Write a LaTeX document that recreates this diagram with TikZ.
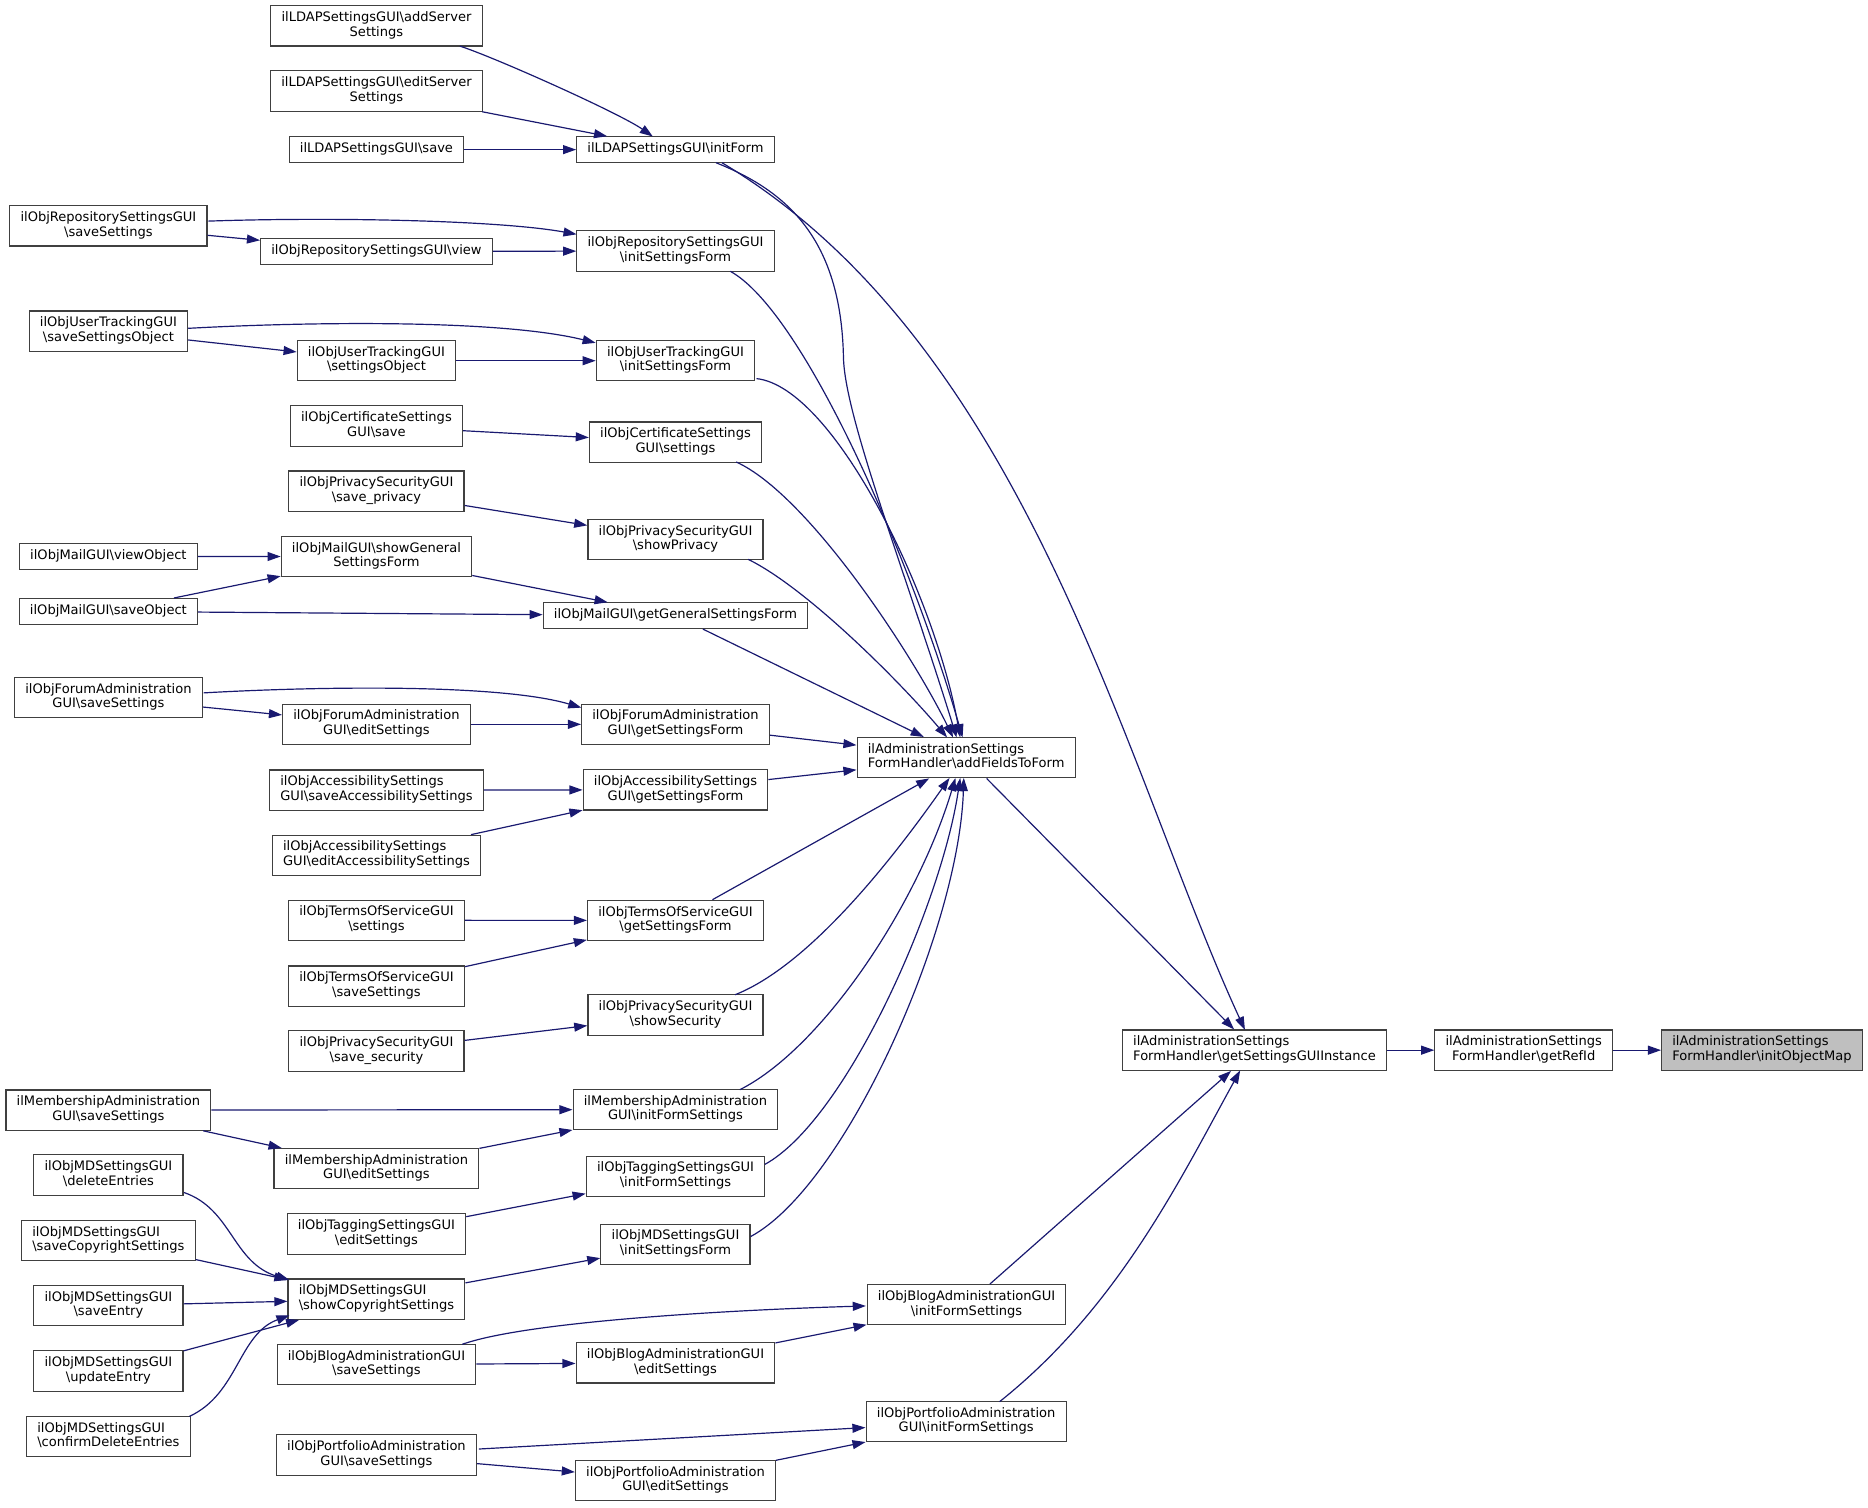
\documentclass[tikz,border=0pt]{standalone}
\usepackage{fontspec}
\setmainfont{DejaVu Sans}
\usetikzlibrary{arrows.meta}
\definecolor{edgec}{HTML}{191970}
\definecolor{boxc}{HTML}{404040}
\definecolor{rootc}{HTML}{BFBFBF}
\newcommand\bs{\textbackslash}
\newcommand\lab[2]{%
  \setbox0=\hbox{#1}\setbox2=\hbox{#2}%
  \ifdim\wd0<\wd2\relax
    \begin{tabular}{@{}l@{}}#1\\#2\end{tabular}%
  \else
    \begin{tabular}{@{}c@{}}#1\\#2\end{tabular}%
  \fi}
\newcommand\one[1]{\begin{tabular}{@{}c@{}}#1\end{tabular}}
\begin{document}
\begin{tikzpicture}[x=1pt,y=-1pt,
  box/.style={draw=boxc, line width=1pt, fill=white, inner xsep=9pt, inner ysep=4.6pt,
    font=\fontsize{10.95}{12.3}\selectfont},
  root/.style={box, fill=rootc},
  edge/.style={draw=edgec, line width=1pt, -{Triangle[length=11pt,width=7.5pt]}}]
\fill[white] (0,0) rectangle (1568,1265);
\useasboundingbox (0,0) rectangle (1568,1265);

% column 2/3 top
\node[box] (addServer) at (316,21.7) {\lab{ilLDAPSettingsGUI\bs{}addServer}{Settings}};
\node[box] (editServer) at (316,76.4) {\lab{ilLDAPSettingsGUI\bs{}editServer}{Settings}};
\node[box] (ldapSave) at (316,125.6) {\one{ilLDAPSettingsGUI\bs{}save}};
\node[box] (initForm) at (567,125.6) {\one{ilLDAPSettingsGUI\bs{}initForm}};
\node[box] (repoSave) at (91,189.6) {\lab{ilObjRepositorySettingsGUI}{\bs{}saveSettings}};
\node[box] (repoView) at (316,211) {\one{ilObjRepositorySettingsGUI\bs{}view}};
\node[box] (repoInit) at (567,210.7) {\lab{ilObjRepositorySettingsGUI}{\bs{}initSettingsForm}};
\node[box] (utSave) at (91,278) {\lab{ilObjUserTrackingGUI}{\bs{}saveSettingsObject}};
\node[box] (utSettings) at (316,302.8) {\lab{ilObjUserTrackingGUI}{\bs{}settingsObject}};
\node[box] (utInit) at (567,302.8) {\lab{ilObjUserTrackingGUI}{\bs{}initSettingsForm}};
\node[box] (certSave) at (316,357.6) {\lab{ilObjCertificateSettings}{GUI\bs{}save}};
\node[box] (certSettings) at (567,371.2) {\lab{ilObjCertificateSettings}{GUI\bs{}settings}};
\node[box] (privSave) at (316,412.3) {\lab{ilObjPrivacySecurityGUI}{\bs{}save\_privacy}};
\node[box] (privShow) at (567,453) {\lab{ilObjPrivacySecurityGUI}{\bs{}showPrivacy}};
\node[box] (mailView) at (91,467) {\one{ilObjMailGUI\bs{}viewObject}};
\node[box] (mailShowGen) at (316,467.2) {\lab{ilObjMailGUI\bs{}showGeneral}{SettingsForm}};
\node[box] (mailSave) at (91,513.2) {\one{ilObjMailGUI\bs{}saveObject}};
\node[box] (mailGetGen) at (567,516.8) {\one{ilObjMailGUI\bs{}getGeneralSettingsForm}};
\node[box] (forumSave) at (91,585.6) {\lab{ilObjForumAdministration}{GUI\bs{}saveSettings}};
\node[box] (forumEdit) at (316,608) {\lab{ilObjForumAdministration}{GUI\bs{}editSettings}};
\node[box] (forumGet) at (567,608) {\lab{ilObjForumAdministration}{GUI\bs{}getSettingsForm}};
\node[box] (accSave) at (316,663.2) {\lab{ilObjAccessibilitySettings}{GUI\bs{}saveAccessibilitySettings}};
\node[box] (accGet) at (567,663) {\lab{ilObjAccessibilitySettings}{GUI\bs{}getSettingsForm}};
\node[box] (accEdit) at (316,718) {\lab{ilObjAccessibilitySettings}{GUI\bs{}editAccessibilitySettings}};
\node[box] (tosSettings) at (316,772.5) {\lab{ilObjTermsOfServiceGUI}{\bs{}settings}};
\node[box] (tosGet) at (567,772.6) {\lab{ilObjTermsOfServiceGUI}{\bs{}getSettingsForm}};
\node[box] (tosSave) at (316,827.7) {\lab{ilObjTermsOfServiceGUI}{\bs{}saveSettings}};
\node[box] (privShowSec) at (567,852) {\lab{ilObjPrivacySecurityGUI}{\bs{}showSecurity}};
\node[box] (privSaveSec) at (316,882.2) {\lab{ilObjPrivacySecurityGUI}{\bs{}save\_security}};
\node[box] (memSave) at (91,931.8) {\lab{ilMembershipAdministration}{GUI\bs{}saveSettings}};
\node[box] (memInit) at (567,931.4) {\lab{ilMembershipAdministration}{GUI\bs{}initFormSettings}};
\node[box] (memEdit) at (316,981) {\lab{ilMembershipAdministration}{GUI\bs{}editSettings}};
\node[box] (mdDel) at (91,986.3) {\lab{ilObjMDSettingsGUI}{\bs{}deleteEntries}};
\node[box] (tagInit) at (567,987.4) {\lab{ilObjTaggingSettingsGUI}{\bs{}initFormSettings}};
\node[box] (tagEdit) at (316,1035.8) {\lab{ilObjTaggingSettingsGUI}{\bs{}editSettings}};
\node[box] (mdCopy) at (91,1041.2) {\lab{ilObjMDSettingsGUI}{\bs{}saveCopyrightSettings}};
\node[box] (mdInit) at (567,1044.5) {\lab{ilObjMDSettingsGUI}{\bs{}initSettingsForm}};
\node[box] (mdShow) at (316,1090.5) {\lab{ilObjMDSettingsGUI}{\bs{}showCopyrightSettings}};
\node[box] (mdSaveEntry) at (91,1096) {\lab{ilObjMDSettingsGUI}{\bs{}saveEntry}};
\node[box] (mdUpdate) at (91,1150.8) {\lab{ilObjMDSettingsGUI}{\bs{}updateEntry}};
\node[box] (mdConfirm) at (91,1205.9) {\lab{ilObjMDSettingsGUI}{\bs{}confirmDeleteEntries}};
\node[box] (blogSave) at (316,1145.4) {\lab{ilObjBlogAdministrationGUI}{\bs{}saveSettings}};
\node[box] (blogEdit) at (567,1144) {\lab{ilObjBlogAdministrationGUI}{\bs{}editSettings}};
\node[box] (blogInit) at (811.3,1095.2) {\lab{ilObjBlogAdministrationGUI}{\bs{}initFormSettings}};
\node[box] (portSave) at (316,1221.3) {\lab{ilObjPortfolioAdministration}{GUI\bs{}saveSettings}};
\node[box] (portEdit) at (567,1242.9) {\lab{ilObjPortfolioAdministration}{GUI\bs{}editSettings}};
\node[box] (portInit) at (811,1193.3) {\lab{ilObjPortfolioAdministration}{GUI\bs{}initFormSettings}};
\node[box] (addFields) at (811,636) {\lab{ilAdministrationSettings}{FormHandler\bs{}addFieldsToForm}};
\node[box] (getGUI) at (1053,881.5) {\lab{ilAdministrationSettings}{FormHandler\bs{}getSettingsGUIInstance}};
\node[box] (getRefId) at (1279,881.5) {\lab{ilAdministrationSettings}{FormHandler\bs{}getRefId}};
\node[root] (initMap) at (1479,881.5) {\lab{ilAdministrationSettings}{FormHandler\bs{}initObjectMap}};

% LDAP
\draw[edge] ([shift={(70,17)}]addServer.center) .. controls (415,48) and (520,95) .. ([shift={(-19,-11)}]initForm.center);
\draw[edge] (editServer) -- (initForm);
\draw[edge] (ldapSave) -- (initForm);
\draw[edge] ([shift={(34,11)}]initForm.center) .. controls (660,160) and (706,200) .. (708,300) .. controls (709,350) and (760,480) .. ([shift={(-8,-17)}]addFields.center);
\draw[edge] ([shift={(39,11)}]initForm.center) .. controls (863,290) and (945,648) .. ([shift={(-8,-17)}]getGUI.center);
% Repository
\draw[edge] ([shift={(84,-4)}]repoSave.center) .. controls (280,182) and (420,185) .. ([shift={(-83,-14)}]repoInit.center);
\draw[edge] (repoSave) -- (repoView);
\draw[edge] (repoView) -- (repoInit);
\draw[edge] ([shift={(46,17)}]repoInit.center) .. controls (675,262) and (765,470) .. ([shift={(-3,-17)}]addFields.center);
% User tracking
\draw[edge] ([shift={(67,-2.4)}]utSave.center) .. controls (260,270) and (420,268) .. ([shift={(-67,-15)}]utInit.center);
\draw[edge] (utSave) -- (utSettings);
\draw[edge] (utSettings) -- (utInit);
\draw[edge] ([shift={(68,15)}]utInit.center) .. controls (700,325) and (785,500) .. ([shift={(-5,-17)}]addFields.center);
% Certificate
\draw[edge] (certSave) -- (certSettings);
\draw[edge] ([shift={(51,16.6)}]certSettings.center) .. controls (678,415) and (766,549) .. ([shift={(-11,-17)}]addFields.center);
% Privacy
\draw[edge] (privSave) -- (privShow);
\draw[edge] ([shift={(61,16.5)}]privShow.center) .. controls (678,494) and (757,574) .. ([shift={(-16,-17)}]addFields.center);
% Mail
\draw[edge] (mailView) -- (mailShowGen);
\draw[edge] (mailSave) -- (mailShowGen);
\draw[edge] (mailSave) -- (mailGetGen);
\draw[edge] (mailShowGen) -- (mailGetGen);
\draw[edge] (mailGetGen) -- (addFields);
% Forum
\draw[edge] ([shift={(80,-4)}]forumSave.center) .. controls (270,576) and (420,574) .. ([shift={(-79,-14)}]forumGet.center);
\draw[edge] (forumSave) -- (forumEdit);
\draw[edge] (forumEdit) -- (forumGet);
\draw[edge] (forumGet) -- (addFields);
% Accessibility
\draw[edge] (accSave) -- (accGet);
\draw[edge] (accEdit) -- (accGet);
\draw[edge] (accGet) -- (addFields);
% Terms of service
\draw[edge] (tosSettings) -- (tosGet);
\draw[edge] (tosSave) -- (tosGet);
\draw[edge] (tosGet) -- (addFields);
% Privacy security
\draw[edge] (privSaveSec) -- (privShowSec);
\draw[edge] ([shift={(50,-17)}]privShowSec.center) .. controls (680,810) and (750,720) .. ([shift={(-14,17)}]addFields.center);
% Membership
\draw[edge] (memSave) -- (memInit);
\draw[edge] (memSave) -- (memEdit);
\draw[edge] (memEdit) -- (memInit);
\draw[edge] ([shift={(54,-16.7)}]memInit.center) .. controls (690,880) and (770,760) .. ([shift={(-9,17)}]addFields.center);
% Tagging
\draw[edge] (tagEdit) -- (tagInit);
\draw[edge] ([shift={(75,-10)}]tagInit.center) .. controls (710,940) and (790,760) .. ([shift={(-5,17)}]addFields.center);
% MD
\draw[edge] ([shift={(63.5,14.7)}]mdDel.center) .. controls (195,1015) and (195,1060) .. ([shift={(-73,-16)}]mdShow.center);
\draw[edge] (mdCopy) -- (mdShow);
\draw[edge] (mdSaveEntry) -- (mdShow);
\draw[edge] (mdUpdate) -- (mdShow);
\draw[edge] ([shift={(68,-17)}]mdConfirm.center) .. controls (200,1170) and (200,1120) .. ([shift={(-73,13.5)}]mdShow.center);
\draw[edge] (mdShow) -- (mdInit);
\draw[edge] ([shift={(63,-6.5)}]mdInit.center) .. controls (710,995) and (805,780) .. ([shift={(-2,17)}]addFields.center);
% Blog
\draw[edge] ([shift={(72,-17)}]blogSave.center) .. controls (440,1110) and (600,1100) .. ([shift={(-84.5,1)}]blogInit.center);
\draw[edge] (blogSave) -- (blogEdit);
\draw[edge] (blogEdit) -- (blogInit);
\draw[edge] (blogInit) -- (getGUI);
% Portfolio
\draw[edge] ([shift={(86,-5)}]portSave.center) -- ([shift={(-84.5,5)}]portInit.center);
\draw[edge] (portSave) -- (portEdit);
\draw[edge] (portEdit) -- (portInit);
\draw[edge] ([shift={(28,-16.7)}]portInit.center) .. controls (939,1097) and (991,989) .. ([shift={(-12,17)}]getGUI.center);
% Handler chain
\draw[edge] (addFields) -- (getGUI);
\draw[edge] (getGUI) -- (getRefId);
\draw[edge] (getRefId) -- (initMap);
\end{tikzpicture}
\end{document}
